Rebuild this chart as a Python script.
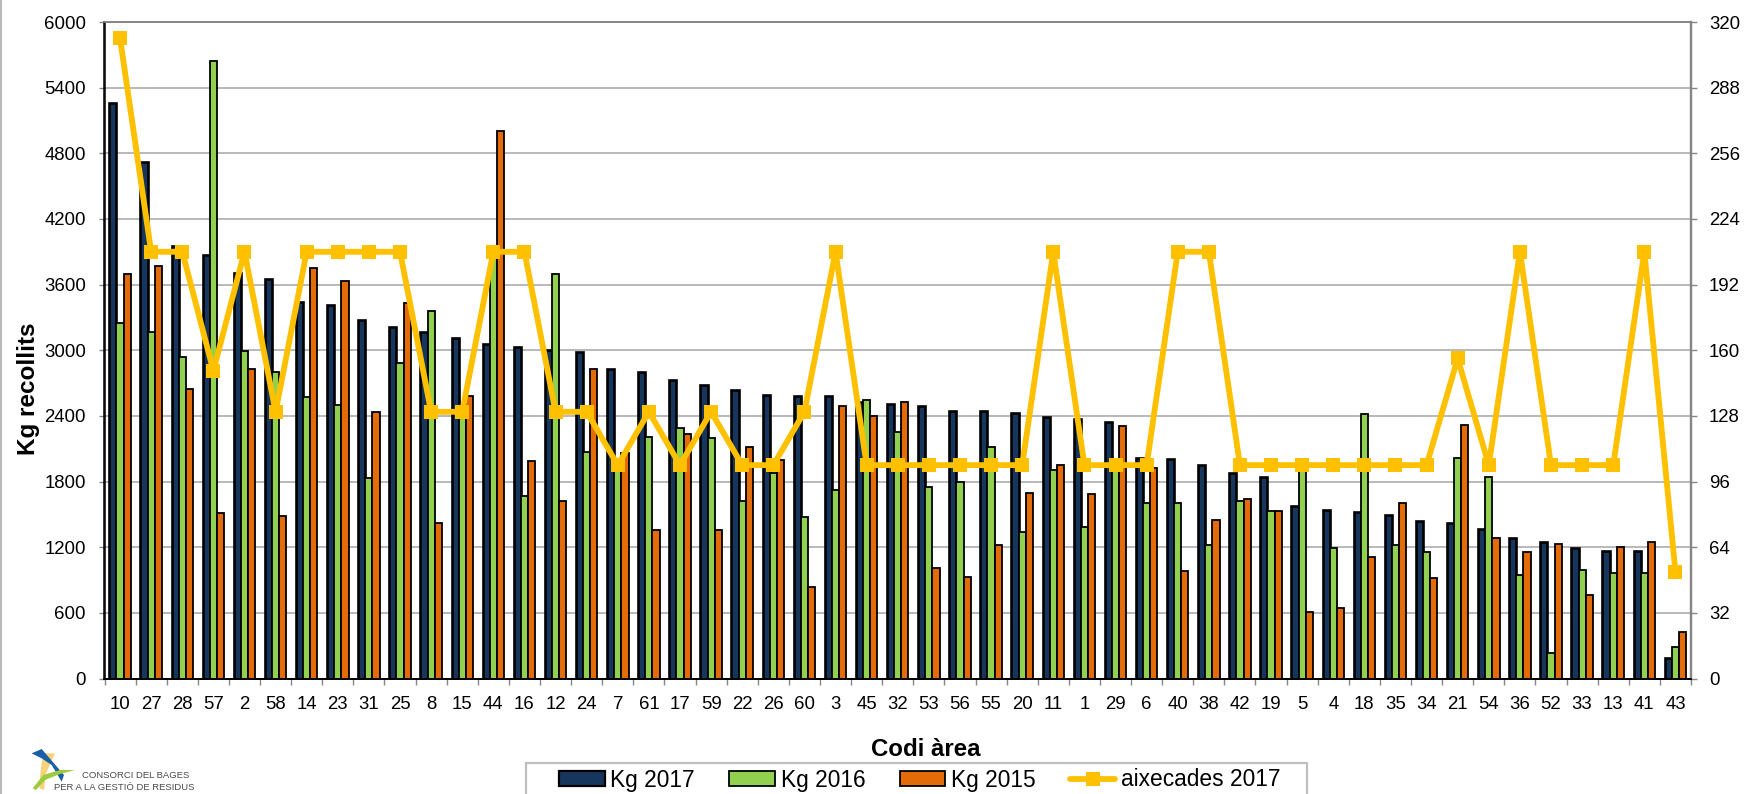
import numpy as np, pandas as pd, seaborn as sns
import matplotlib
matplotlib.use("Agg")
import matplotlib.pyplot as plt
from matplotlib.lines import Line2D
from matplotlib.patches import Patch, Polygon, Rectangle
from matplotlib.ticker import FixedLocator, NullFormatter

codes = ["10","27","28","57","2","58","14","23","31","25","8","15","44","16","12","24","7",
         "61","17","59","22","26","60","3","45","32","53","56","55","20","11","1","29","6",
         "40","38","42","19","5","4","18","35","34","21","54","36","52","33","13","41","43"]
kg2017 = [5260,4720,3950,3870,3703,3650,3445,3418,3279,3215,3164,3112,3058,3033,3003,2985,2830,
          2800,2724,2682,2633,2588,2582,2579,2530,2512,2491,2448,2442,2427,2394,2376,2348,2015,
          2003,1952,1882,1846,1581,1544,1523,1496,1438,1417,1368,1280,1249,1190,1167,1161,188]
kg2016 = [3245,3167,2936,5640,2990,2797,2576,2503,1837,2879,3358,2480,3850,1664,3700,2073,1950,
          2206,2291,2200,1624,1882,1476,1724,2542,2252,1749,1797,2118,1340,1903,1385,1950,1606,
          1606,1224,1621,1527,1990,1192,2417,1222,1155,2012,1845,945,231,994,961,964,289]
kg2015 = [3697,3770,2650,1512,2830,1482,3748,3630,2436,3433,1418,2579,5000,1985,1624,2830,2060,
          1355,2233,1355,2115,1997,835,2494,2397,2527,1006,927,1221,1691,1955,1685,2306,1927,
          982,1449,1636,1530,605,641,1107,1602,921,2313,1283,1155,1225,760,1201,1246,426]
aixecades = [312,208,208,150,208,130,208,208,208,208,130,130,208,208,130,130,104,
             130,104,130,104,104,130,208,104,104,104,104,104,104,208,104,104,104,
             208,208,104,104,104,104,104,104,104,156,104,208,104,104,104,208,52]
series_names = ["Kg 2017","Kg 2016","Kg 2015"]
line_name = "aixecades 2017"
left_ticks = list(range(0,6001,600))
right_ticks = list(range(0,321,32))

NAVY, GREEN, ORANGE, GOLD = "#17365D", "#92D050", "#E36C09", "#FFC000"
W, H = 1747, 794
sns.set_theme(style="white")
plt.rcParams["font.family"] = ["Liberation Sans", "DejaVu Sans"]

fig = plt.figure(figsize=(W/100, H/100), dpi=100, facecolor="white")
L, R, T, B = 104.5, 1691, 22, 678.5
ax = fig.add_axes([L/W, 1-B/H, (R-L)/W, (B-T)/H])

df = pd.DataFrame({"code": codes, series_names[0]: kg2017, series_names[1]: kg2016, series_names[2]: kg2015})
long = df.melt(id_vars="code", var_name="serie", value_name="kg")
sns.barplot(data=long, x="code", y="kg", hue="serie", order=codes, hue_order=series_names,
            palette=[NAVY, GREEN, ORANGE], width=0.69, gap=0, dodge=True, saturation=1,
            edgecolor="black", linewidth=1.3, legend=False, errorbar=None, ax=ax)
for p in ax.containers[0]:
    p.set_linewidth(1.9)

ax.set_ylim(0, 6000)
ax.set_yticks(left_ticks)
ax.set_axisbelow(True)
ax.grid(axis="y", color="#A6A6A6", lw=1.1)
ax.grid(axis="x", visible=False)
ax.tick_params(axis="y", length=4.5, width=1, color="#868686", pad=9, labelsize=13.4, labelcolor="black", left=True)

ax2 = ax.twinx()
sns.lineplot(x=np.arange(len(codes)), y=aixecades, color=GOLD, lw=4.2, marker="s", markersize=10.4,
             markeredgewidth=0, sort=False, errorbar=None, ax=ax2, legend=False)
ax2.set_ylim(0, 320)
ax2.set_yticks(right_ticks)
ax2.set_ylabel("")
ax2.grid(False)
ax2.patch.set_visible(False)
ax2.tick_params(axis="y", length=4.5, width=1, color="#868686", pad=8.3, labelsize=13.4, labelcolor="black", right=True)

ax.set_xlim(-0.5, len(codes)-0.5)
ax.xaxis.set_major_locator(FixedLocator(np.arange(len(codes))))
ax.set_xticklabels(codes)
ax.xaxis.set_minor_locator(FixedLocator(np.arange(len(codes)+1)-0.5))
ax.xaxis.set_minor_formatter(NullFormatter())
ax.tick_params(axis="x", which="major", length=0, pad=12.5, labelsize=13.4, labelcolor="black")
ax.tick_params(axis="x", which="minor", length=4.5, width=1, color="#868686", bottom=True)

for a in (ax, ax2):
    a.spines["left"].set(color="black", lw=1.1)
    a.spines["bottom"].set(color="black", lw=1.3)
    a.spines["right"].set(color="#868686", lw=1.6)
    a.spines["top"].set(color="#868686", lw=1.2)

ax.set_xlabel("Codi àrea", fontsize=17.3, fontweight="bold", color="black")
ax.xaxis.set_label_coords((926-L)/(R-L), -(749-B)/(B-T))
ax.xaxis.label.set_va("center")
ax.set_ylabel("Kg recollits", fontsize=17.5, fontweight="bold", color="black")
ax.yaxis.set_label_coords((28-L)/(R-L), 1-(389-T)/(B-T))
ax.yaxis.label.set_va("center")

# legend frame (runs off the bottom of the image, as in the reference)
fig.add_artist(Rectangle((526/W, -0.05), (1307-526)/W, 0.05+1-763/H, transform=fig.transFigure,
                         fc="white", ec="#BFBFBF", lw=1.6))
handles = [Patch(fc=NAVY, ec="black", lw=1.6), Patch(fc=GREEN, ec="black", lw=1.3), Patch(fc=ORANGE, ec="black", lw=1.3),
           Line2D([], [], color=GOLD, lw=4.2, marker="s", ms=10.4, mew=0)]
leg = fig.legend(handles, series_names+[line_name], loc="center left", bbox_to_anchor=(559/W, 1-780/H),
                 ncols=4, frameon=False, borderpad=0, borderaxespad=0, handlelength=2.0, handleheight=0.6,
                 handletextpad=0.26, columnspacing=1.5, prop={"size": 16.4})
for t in leg.get_texts():
    t.set_color("black")

# logo
def px(pts):
    return [(x/3/W, 1-(720+y/3)/H) for x, y in pts]
fig.add_artist(Polygon(px([(130,100),(165,100),(138,160),(132,210),(118,205),(122,150)]), transform=fig.transFigure, fc="#F6D27A", ec="none"))
fig.add_artist(Polygon(px([(95,100),(125,87),(192,165),(185,185),(155,135),(125,115)]), transform=fig.transFigure, fc="#1B5FA8", ec="none"))
fig.add_artist(Polygon(px([(98,205),(130,165),(180,150),(225,150),(180,162),(135,180),(108,210)]), transform=fig.transFigure, fc="#9CCB3B", ec="none"))
fig.text(82/W, 1-776/H, "CONSORCI DEL BAGES", fontsize=6.8, color="#4a4a4a", va="center", ha="left")
fig.text(54/W, 1-787/H, "PER A LA GESTIÓ DE RESIDUS", fontsize=6.8, color="#4a4a4a", va="center", ha="left")
# thin frame remnant on the left edge
fig.add_artist(Line2D([0.6/W, 0.6/W], [0, 1], transform=fig.transFigure, color="#ABABAB", lw=1.2))

fig.savefig("out.png", dpi=100)
